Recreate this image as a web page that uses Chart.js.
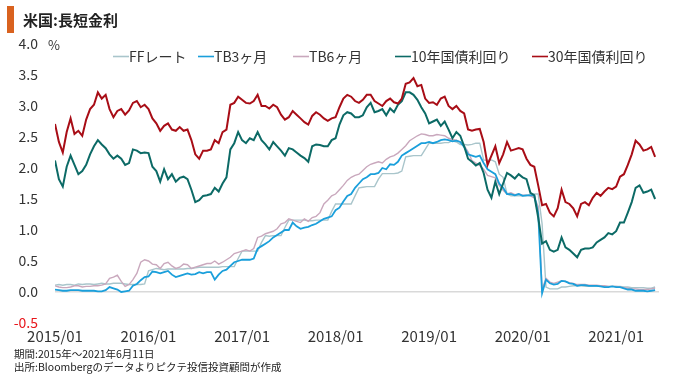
<!DOCTYPE html>
<html><head><meta charset="utf-8">
<script src="https://cdn.jsdelivr.net/npm/chart.js@4"></script>
<style>html,body{margin:0;padding:0;background:#fff}canvas{display:block}</style>
</head><body>
<canvas id="c" width="680" height="375"></canvas>
<script>
const TITLE = '米国:長短金利';
const NOTES = ['期間:2015年～2021年6月11日', '出所:Bloombergのデータよりピクテ投信投資顧問が作成'];
const SERIES_NAMES = ['FFレート', 'TB3ヶ月', 'TB6ヶ月', '10年国債利回り', '30年国債利回り'];
const X_TICKS = [0, 12, 24, 36, 48, 60, 72];           // months since 2015/01
const X_TICK_LABELS = ['2015/01', '2016/01', '2017/01', '2018/01', '2019/01', '2020/01', '2021/01'];
const Y_TICKS = [-0.5, 0, 0.5, 1, 1.5, 2, 2.5, 3, 3.5, 4];
const STEP = 0.5; // half-month sampling (months)

const ff = [
 0.11,0.12,0.11,0.12,0.12,0.11,0.13,0.12,0.13,0.13,0.12,0.13,0.14,0.13,0.13,0.14,0.14,0.14,0.13,0.12,0.12,0.12,0.12,0.13,
 0.34,0.36,0.38,0.37,0.36,0.37,0.37,0.37,0.37,0.37,0.38,0.38,0.39,0.40,0.40,0.40,0.40,0.40,0.40,0.41,0.41,0.41,0.41,0.54,
 0.66,0.66,0.66,0.66,0.66,0.80,0.91,0.90,0.91,0.91,0.91,1.04,1.16,1.16,1.16,1.16,1.16,1.15,1.15,1.16,1.16,1.16,1.16,1.30,
 1.42,1.42,1.42,1.42,1.42,1.55,1.68,1.69,1.70,1.70,1.70,1.82,1.91,1.91,1.91,1.91,1.92,1.95,2.18,2.19,2.20,2.20,2.20,2.30,
 2.40,2.40,2.40,2.40,2.41,2.41,2.44,2.42,2.38,2.38,2.37,2.38,2.40,2.40,2.13,2.12,2.13,2.10,1.90,1.85,1.58,1.55,1.55,1.55,
 1.55,1.55,1.58,1.58,1.58,1.10,0.08,0.05,0.05,0.05,0.08,0.08,0.09,0.10,0.10,0.10,0.09,0.09,0.09,0.09,0.09,0.09,0.09,0.09,
 0.09,0.09,0.08,0.08,0.07,0.07,0.07,0.07,0.06,0.06,0.08
];
const tb3 = [
 0.04,0.03,0.02,0.02,0.03,0.03,0.03,0.02,0.02,0.02,0.02,0.01,0.01,0.03,0.08,0.06,0.04,0.00,0.01,0.02,0.10,0.13,0.19,0.24,
 0.25,0.33,0.32,0.30,0.32,0.34,0.28,0.24,0.26,0.28,0.30,0.28,0.29,0.32,0.30,0.32,0.32,0.20,0.28,0.34,0.36,0.42,0.48,0.50,
 0.52,0.52,0.52,0.54,0.70,0.74,0.78,0.82,0.88,0.92,0.96,1.00,1.00,1.12,1.06,1.02,1.04,1.05,1.08,1.10,1.14,1.18,1.20,1.22,
 1.32,1.36,1.46,1.55,1.58,1.68,1.75,1.82,1.85,1.90,1.90,1.92,2.00,1.98,2.06,2.05,2.10,2.20,2.24,2.28,2.32,2.36,2.40,2.40,
 2.42,2.40,2.42,2.45,2.46,2.45,2.43,2.44,2.42,2.34,2.22,2.20,2.18,2.20,2.08,1.98,1.94,1.90,1.75,1.68,1.58,1.58,1.56,1.58,
 1.55,1.56,1.56,1.56,1.27,-0.02,0.20,0.14,0.12,0.13,0.18,0.17,0.14,0.13,0.10,0.11,0.11,0.10,0.10,0.10,0.09,0.08,0.08,0.09,
 0.08,0.08,0.06,0.04,0.04,0.02,0.02,0.02,0.01,0.02,0.03
];
const tb6 = [
 0.10,0.08,0.07,0.07,0.08,0.10,0.10,0.08,0.09,0.09,0.10,0.10,0.11,0.13,0.22,0.24,0.27,0.17,0.09,0.12,0.20,0.30,0.48,0.52,
 0.50,0.45,0.44,0.38,0.46,0.48,0.42,0.38,0.40,0.45,0.44,0.38,0.40,0.42,0.44,0.46,0.46,0.50,0.45,0.48,0.52,0.56,0.62,0.64,
 0.66,0.68,0.66,0.70,0.88,0.90,0.94,0.96,0.98,1.02,1.10,1.12,1.18,1.16,1.14,1.12,1.18,1.14,1.20,1.22,1.28,1.42,1.48,1.55,
 1.58,1.65,1.72,1.80,1.85,1.88,1.90,1.96,2.02,2.06,2.08,2.10,2.08,2.14,2.18,2.20,2.24,2.30,2.36,2.44,2.48,2.52,2.55,2.54,
 2.52,2.52,2.54,2.53,2.52,2.48,2.46,2.45,2.42,2.36,2.26,2.12,2.08,2.04,1.98,1.88,1.86,1.84,1.72,1.64,1.58,1.60,1.57,1.58,
 1.56,1.56,1.55,1.52,1.38,0.04,0.22,0.16,0.14,0.16,0.18,0.17,0.15,0.14,0.12,0.12,0.12,0.11,0.11,0.11,0.10,0.10,0.09,0.09,
 0.09,0.08,0.07,0.06,0.05,0.05,0.04,0.04,0.04,0.05,0.06
];
const y10 = [
 2.12,1.82,1.70,2.02,2.20,2.05,1.90,1.95,2.05,2.22,2.35,2.45,2.38,2.32,2.22,2.15,2.20,2.15,2.05,2.08,2.30,2.28,2.24,2.25,
 2.24,2.02,1.95,1.78,1.98,1.82,1.90,1.78,1.84,1.86,1.82,1.65,1.45,1.48,1.55,1.56,1.58,1.68,1.62,1.75,1.85,2.30,2.40,2.58,
 2.45,2.40,2.48,2.45,2.58,2.45,2.38,2.30,2.42,2.35,2.28,2.20,2.32,2.30,2.25,2.20,2.16,2.10,2.35,2.38,2.37,2.35,2.35,2.45,
 2.48,2.70,2.85,2.90,2.88,2.82,2.82,2.85,2.98,3.05,2.90,2.92,2.95,2.85,2.96,2.90,3.02,3.08,3.22,3.22,3.18,3.10,2.98,2.88,
 2.72,2.75,2.78,2.68,2.75,2.62,2.48,2.58,2.52,2.35,2.15,2.10,2.04,2.08,1.92,1.65,1.52,1.78,1.58,1.75,1.92,1.88,1.83,1.90,
 1.85,1.82,1.60,1.56,1.20,0.78,0.82,0.68,0.65,0.68,0.88,0.72,0.68,0.62,0.56,0.68,0.70,0.70,0.72,0.80,0.84,0.88,0.95,0.93,
 0.98,1.12,1.12,1.28,1.45,1.68,1.72,1.60,1.62,1.65,1.50
];
const y30 = [
 2.71,2.42,2.25,2.58,2.80,2.55,2.60,2.52,2.78,2.95,3.02,3.22,3.12,3.18,2.95,2.82,2.92,2.95,2.86,2.93,3.05,3.08,2.98,3.02,
 2.95,2.80,2.72,2.60,2.68,2.72,2.62,2.60,2.66,2.60,2.62,2.45,2.22,2.15,2.28,2.28,2.30,2.45,2.40,2.58,2.62,3.02,3.05,3.15,
 3.10,3.05,3.04,3.08,3.18,3.00,3.00,2.96,3.02,2.98,2.86,2.78,2.82,2.92,2.86,2.80,2.74,2.70,2.84,2.90,2.86,2.80,2.76,2.80,
 2.82,2.98,3.12,3.18,3.15,3.08,3.05,3.10,3.18,3.18,3.08,3.04,3.00,3.08,3.12,3.06,3.04,3.12,3.36,3.38,3.45,3.32,3.34,3.12,
 3.05,3.06,3.02,3.12,3.15,3.00,2.95,3.00,2.92,2.88,2.62,2.60,2.62,2.63,2.42,2.05,2.20,2.35,2.08,2.22,2.42,2.28,2.30,2.32,
 2.30,2.15,2.05,2.02,1.72,1.40,1.42,1.28,1.22,1.35,1.65,1.45,1.42,1.35,1.22,1.42,1.45,1.40,1.52,1.60,1.55,1.62,1.68,1.66,
 1.70,1.86,1.90,2.05,2.22,2.44,2.38,2.28,2.30,2.34,2.18
];

const COLORS = ['#a9c5cb', '#1a9fdb', '#c9a8bd', '#0c6a66', '#a80d16'];
const WIDTHS = [1.4, 1.8, 1.4, 2, 2];
const ORDERS = [5, 3, 4, 2, 1];
const VALUES = [ff, tb3, tb6, y10, y30];

const FONT = '"Noto Sans CJK JP", "Noto Sans", sans-serif';

function pts(arr) { return arr.map((v, i) => ({ x: i * STEP, y: v })); }

const decor = {
  id: 'decor',
  afterDraw(chart, args, opts) {
    const ctx = chart.ctx;
    ctx.save();
    // title bar + title
    ctx.fillStyle = '#d9621f';
    ctx.fillRect(7, 6, 7, 27);
    ctx.fillStyle = '#222';
    ctx.font = 'bold 15px ' + FONT;
    ctx.textBaseline = 'middle';
    ctx.textAlign = 'left';
    ctx.fillText(TITLE, 23, 20);
    // unit
    ctx.font = '13px ' + FONT;
    ctx.fillStyle = '#333';
    ctx.fillText('%', 48, 45);
    // legend
    ctx.font = '14px ' + FONT;
    chart.data.datasets.forEach((ds, i) => {
      const x0 = opts.legendX[i], y = opts.legendY;
      ctx.strokeStyle = ds.borderColor;
      ctx.lineWidth = 1.6;
      ctx.beginPath();
      ctx.moveTo(x0, y + 0.5);
      ctx.lineTo(x0 + 16, y + 0.5);
      ctx.stroke();
      ctx.fillStyle = '#333';
      ctx.fillText(ds.label, x0 + 16, y + 1);
    });
    // notes
    ctx.font = '10.5px ' + FONT;
    ctx.fillStyle = '#222';
    ctx.fillText(NOTES[0], 14, 354);
    ctx.fillText(NOTES[1], 14, 367);
    ctx.restore();
  }
};

new Chart(document.getElementById('c'), {
  type: 'line',
  data: {
    datasets: VALUES.map((vals, i) => ({
      label: SERIES_NAMES[i],
      data: pts(vals),
      borderColor: COLORS[i],
      backgroundColor: COLORS[i],
      borderWidth: WIDTHS[i],
      pointRadius: 0,
      tension: 0,
      order: ORDERS[i]
    }))
  },
  options: {
    responsive: false,
    animation: false,
    devicePixelRatio: 1,
    layout: { padding: { top: 44, right: 21, left: 0, bottom: 0 } },
    plugins: {
      legend: { display: false },
      tooltip: { enabled: false },
      decor: { legendX: [113, 198, 293, 395, 532], legendY: 56 }
    },
    scales: {
      x: {
        type: 'linear',
        min: 0,
        max: 77.5,
        afterBuildTicks: s => { s.ticks = X_TICKS.map(v => ({ value: v })); },
        afterFit: s => { s.height = 52; },
        grid: { display: false, drawTicks: false },
        border: { display: false },
        ticks: {
          padding: 4,
          autoSkip: false,
          maxRotation: 0,
          color: '#333',
          font: { family: FONT, size: 15 },
          callback: (v) => X_TICK_LABELS[X_TICKS.indexOf(v)]
        }
      },
      y: {
        min: -0.5,
        max: 4,
        afterBuildTicks: s => { s.ticks = Y_TICKS.map(v => ({ value: v })); },
        afterFit: s => { s.width = 55; },
        grid: {
          drawTicks: false,
          lineWidth: 1.5,
          color: c => (c.tick && c.tick.value === 0) ? '#d9d9d9' : 'rgba(0,0,0,0)'
        },
        border: { display: false },
        ticks: {
          padding: 17,
          color: c => (c.tick && c.tick.value < 0) ? '#e8161b' : '#333',
          font: { family: FONT, size: 14 },
          callback: v => v.toFixed(1)
        }
      }
    }
  },
  plugins: [decor]
});
</script>
</body></html>
